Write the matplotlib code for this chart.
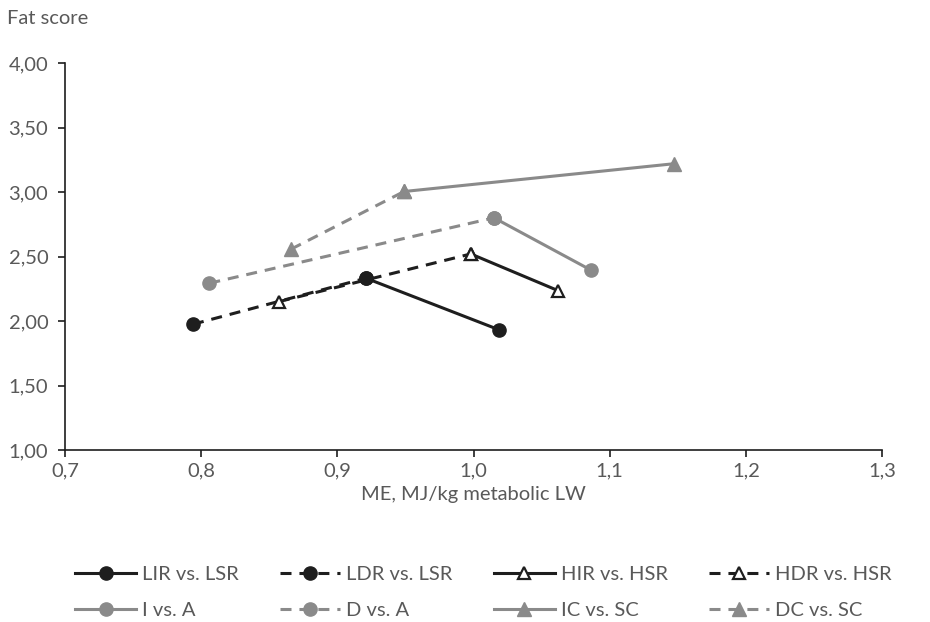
import matplotlib
matplotlib.use("Agg")
import matplotlib.pyplot as plt

# fat score vs. ME intake, each series is a pair of points
ldr_x, ldr_y = [0.794, 0.921], [1.975, 2.332]
lir_x, lir_y = [0.921, 1.019], [2.332, 1.931]
hdr_x, hdr_y = [0.857, 0.998], [2.150, 2.520]
hir_x, hir_y = [0.998, 1.062], [2.520, 2.236]
d_x, d_y = [0.806, 1.015], [2.293, 2.800]
i_x, i_y = [1.015, 1.086], [2.800, 2.396]
dc_x, dc_y = [0.866, 0.949], [2.557, 3.004]
ic_x, ic_y = [0.949, 1.147], [3.004, 3.219]

x_ticks = [0.7, 0.8, 0.9, 1.0, 1.1, 1.2, 1.3]
x_tick_labels = ["0,7", "0,8", "0,9", "1,0", "1,1", "1,2", "1,3"]
y_ticks = [1.0, 1.5, 2.0, 2.5, 3.0, 3.5, 4.0]
y_tick_labels = ["1,00", "1,50", "2,00", "2,50", "3,00", "3,50", "4,00"]

plt.rcParams["font.family"] = ["Lato", "DejaVu Sans"]

DARK = "#1e1e1e"
GREY = "#8a8a8a"
TXT = "#595959"
DASH = (3.6, 2.6)
FS = 14.5

fig = plt.figure(figsize=(9.3, 6.22), dpi=100)
ax = fig.add_axes([0.0699, 0.2765, 0.8785, 0.6222])

lw = 2.2
ms = 9.5
common = dict(linewidth=lw, markersize=ms)

h_lir, = ax.plot(lir_x, lir_y, color=DARK, marker="o", **common)
h_ldr, = ax.plot(ldr_x, ldr_y, color=DARK, marker="o", linestyle=(0, DASH), **common)
h_hir, = ax.plot(hir_x, hir_y, color=DARK, marker="^", markerfacecolor="white",
                 markeredgewidth=1.6, linewidth=lw, markersize=8)
h_hdr, = ax.plot(hdr_x, hdr_y, color=DARK, marker="^", markerfacecolor="white",
                 markeredgewidth=1.6, linestyle=(0, DASH), linewidth=lw, markersize=8)
h_i, = ax.plot(i_x, i_y, color=GREY, marker="o", **common)
h_d, = ax.plot(d_x, d_y, color=GREY, marker="o", linestyle=(0, DASH), **common)
h_ic, = ax.plot(ic_x, ic_y, color=GREY, marker="^", linewidth=lw, markersize=9.5)
h_dc, = ax.plot(dc_x, dc_y, color=GREY, marker="^", linestyle=(0, DASH),
                linewidth=lw, markersize=9.5)

ax.set_xlim(0.7, 1.3)
ax.set_ylim(1.0, 4.0)
ax.set_xticks(x_ticks)
ax.set_xticklabels(x_tick_labels)
ax.set_yticks(y_ticks)
ax.set_yticklabels(y_tick_labels)

for s in ["top", "right"]:
    ax.spines[s].set_visible(False)
for s in ["left", "bottom"]:
    ax.spines[s].set_color(DARK)
    ax.spines[s].set_linewidth(1.2)
ax.tick_params(axis="both", colors=DARK, labelcolor=TXT, labelsize=FS,
               length=5, width=1.2, direction="out")
ax.tick_params(axis="x", pad=4)
ax.tick_params(axis="y", pad=7)

ax.set_xlabel("ME, MJ/kg metabolic LW", fontsize=FS, color=TXT, labelpad=5)
fig.text(0.008, 0.97, "Fat score", fontsize=FS, color=TXT, ha="left", va="center")

# legend: column-major fill, so interleave rows
handles = [h_lir, h_i, h_ldr, h_d, h_hir, h_ic, h_hdr, h_dc]
labels = ["LIR vs. LSR", "I vs. A", "LDR vs. LSR", "D vs. A",
          "HIR vs. HSR", "IC vs. SC", "HDR vs. HSR", "DC vs. SC"]
leg = fig.legend(handles, labels, ncol=4, loc="lower left",
                 bbox_to_anchor=(0.066, -0.018), frameon=False, fontsize=FS,
                 handlelength=3.0, handletextpad=0.3, columnspacing=2.05,
                 labelspacing=0.95, borderaxespad=0.3)
for t in leg.get_texts():
    t.set_color(TXT)

fig.savefig("out.png", dpi=100)
